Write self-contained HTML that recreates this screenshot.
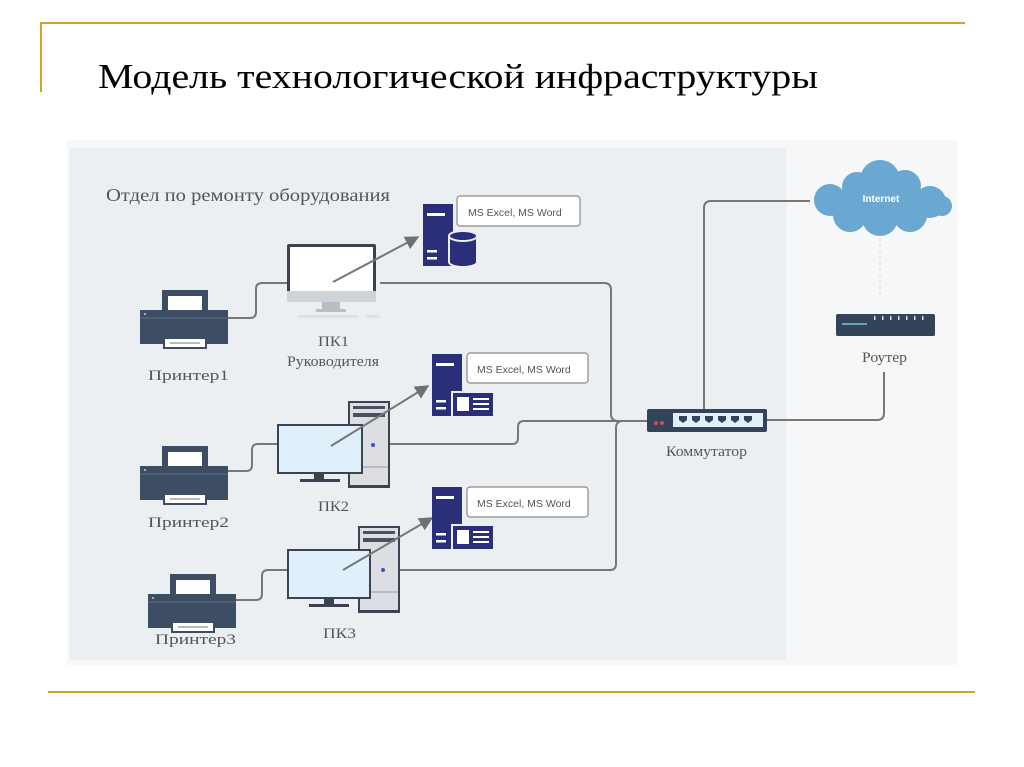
<!DOCTYPE html>
<html><head><meta charset="utf-8"><style>
html,body{margin:0;padding:0;background:#fff;width:1024px;height:767px;overflow:hidden}
svg{display:block}
.s{font-family:"Liberation Serif","DejaVu Serif",serif;fill:#555}
.l{font-family:"Liberation Sans","DejaVu Sans",sans-serif;font-size:10.5px;fill:#555}
</style></head><body>
<svg width="1024" height="767" viewBox="0 0 1024 767" xmlns="http://www.w3.org/2000/svg">
<defs>
<marker id="ar" viewBox="0 0 10 10" refX="9" refY="5" markerWidth="7" markerHeight="7" orient="auto"><path d="M0,0L10,5L0,10z" fill="#707070"/></marker>
<g id="printer">
 <rect x="22" y="0" width="46" height="22" fill="#3c4d64"/><rect x="28" y="6" width="34" height="16" fill="#fff"/>
 <rect x="0" y="20" width="88" height="34" fill="#3c4d64"/><line x1="0" y1="28" x2="88" y2="28" stroke="#5d6e85" stroke-width="1"/>
 <circle cx="5" cy="24" r="1" fill="#ccc"/>
 <rect x="24" y="48" width="42" height="10" fill="#fff" stroke="#3c4d64" stroke-width="2"/><rect x="30" y="52" width="30" height="2" fill="#bbb"/>
</g>
<g id="srv">
 <rect x="0" y="0" width="30" height="62" fill="#2b2f7a"/>
 <rect x="4" y="9" width="18" height="3" fill="#fff"/>
 <rect x="4" y="46" width="10" height="2.5" fill="#fff"/><rect x="4" y="53" width="10" height="2.5" fill="#fff"/>
</g>
<g id="tower">
 <rect x="0" y="0" width="42" height="87" fill="#3c4252"/><rect x="2" y="2" width="38" height="82" fill="#dcdee3"/>
 <rect x="5" y="5" width="32" height="3" fill="#4a5060"/><rect x="5" y="12" width="32" height="4" fill="#4a5060"/>
 <line x1="2" y1="66" x2="40" y2="66" stroke="#999"/><circle cx="25" cy="44" r="2" fill="#3355cc"/>
</g>
</defs>
<line x1="40" y1="23" x2="965" y2="23" stroke="#d4a12a" stroke-width="2"/>
<line x1="41" y1="22" x2="41" y2="92" stroke="#d4a12a" stroke-width="2"/>
<line x1="48" y1="692" x2="975" y2="692" stroke="#d4a12a" stroke-width="2"/>
<text x="98" y="88" font-family="'Liberation Serif',serif" font-size="35" fill="#000" textLength="720" lengthAdjust="spacingAndGlyphs">Модель технологической инфраструктуры</text>
<rect x="67" y="140" width="890" height="525" fill="#f6f7f9"/>
<rect x="70" y="148" width="716" height="512" fill="#eceff2"/>
<text x="106" y="201" class="s" font-size="18" textLength="284" lengthAdjust="spacingAndGlyphs">Отдел по ремонту оборудования</text>
<g fill="none" stroke="#777" stroke-width="2">
 <path d="M228,318H250Q256,318 256,312V289Q256,283 262,283H288"/>
 <path d="M380,283H604Q611,283 611,290V414Q611,421 618,421H648"/>
 <path d="M228,471H246Q252,471 252,465V450Q252,444 258,444H278"/>
 <path d="M390,444H512Q518,444 518,438V427Q518,421 524,421H648"/>
 <path d="M235,600H256Q262,600 262,594V576Q262,570 268,570H288"/>
 <path d="M398,570H610Q616,570 616,564V428Q616,421 623,421"/>
 <path d="M704,409V208Q704,201 711,201H810"/>
 <path d="M767,420H877Q884,420 884,413V372"/>
</g>
<line x1="880" y1="238" x2="880" y2="300" stroke="#e8e8e8" stroke-width="2" stroke-dasharray="3,3"/>
<use href="#printer" x="140" y="290"/>
<use href="#printer" x="140" y="446"/>
<use href="#printer" x="148" y="574"/>
<text x="148" y="380" class="s" font-size="15" textLength="81" lengthAdjust="spacingAndGlyphs">Принтер1</text>
<text x="148" y="527" class="s" font-size="15" textLength="81" lengthAdjust="spacingAndGlyphs">Принтер2</text>
<text x="155" y="644" class="s" font-size="15" textLength="81" lengthAdjust="spacingAndGlyphs">Принтер3</text>
<rect x="287" y="244" width="89" height="58" rx="2" fill="#3c4252"/>
<rect x="290" y="247" width="83" height="44" fill="#fff"/>
<rect x="287" y="291" width="89" height="11" fill="#cfd2d8"/>
<rect x="322" y="302" width="18" height="8" fill="#b8bcc3"/><rect x="316" y="309" width="30" height="3" fill="#b8bcc3"/>
<rect x="297" y="315" width="62" height="3" fill="#dfe1e5"/><rect x="365" y="315" width="15" height="3" fill="#dfe1e5"/>
<text x="318" y="346" class="s" font-size="15" textLength="31" lengthAdjust="spacingAndGlyphs">ПК1</text>
<text x="287" y="366" class="s" font-size="15" textLength="92" lengthAdjust="spacingAndGlyphs">Руководителя</text>
<use href="#tower" x="348" y="401"/>
<rect x="277" y="424" width="86" height="50" fill="#3c4252"/><rect x="279" y="426" width="82" height="46" fill="#dff0fa"/>
<rect x="314" y="474" width="10" height="6" fill="#3c4252"/><rect x="300" y="479" width="40" height="3" fill="#3c4252"/>
<text x="318" y="511" class="s" font-size="15" textLength="31" lengthAdjust="spacingAndGlyphs">ПК2</text>
<use href="#tower" x="358" y="526"/>
<rect x="287" y="549" width="84" height="50" fill="#3c4252"/><rect x="289" y="551" width="80" height="46" fill="#dff0fa"/>
<rect x="324" y="599" width="10" height="6" fill="#3c4252"/><rect x="309" y="604" width="40" height="3" fill="#3c4252"/>
<text x="323" y="638" class="s" font-size="15" textLength="33" lengthAdjust="spacingAndGlyphs">ПК3</text>
<g stroke="#777" stroke-width="2" marker-end="url(#ar)">
 <line x1="333" y1="282" x2="418" y2="237"/>
 <line x1="331" y1="446" x2="428" y2="386"/>
 <line x1="343" y1="570" x2="432" y2="518"/>
</g>
<use href="#srv" x="423" y="204"/>
<g fill="#2b2f7a" stroke="#eceff2" stroke-width="2"><path d="M449,236v26a14,5 0 0 0 28,0v-26z"/><ellipse cx="463" cy="236" rx="14" ry="5"/></g>
<rect x="457" y="196" width="123" height="30" rx="3" fill="#fff" stroke="#888" stroke-width="1.2"/>
<text x="468" y="216" class="l">MS Excel, MS Word</text>
<use href="#srv" x="432" y="354"/>
<rect x="452" y="392" width="42" height="25" fill="#2b2f7a" stroke="#eceff2" stroke-width="2"/><rect x="457" y="397" width="12" height="14" fill="#fff"/><rect x="473" y="398" width="16" height="2" fill="#fff"/><rect x="473" y="403" width="16" height="2" fill="#fff"/><rect x="473" y="408" width="16" height="2" fill="#fff"/>
<rect x="467" y="353" width="121" height="30" rx="3" fill="#fff" stroke="#888" stroke-width="1.2"/>
<text x="477" y="373" class="l">MS Excel, MS Word</text>
<use href="#srv" x="432" y="487"/>
<rect x="452" y="525" width="42" height="25" fill="#2b2f7a" stroke="#eceff2" stroke-width="2"/><rect x="457" y="530" width="12" height="14" fill="#fff"/><rect x="473" y="531" width="16" height="2" fill="#fff"/><rect x="473" y="536" width="16" height="2" fill="#fff"/><rect x="473" y="541" width="16" height="2" fill="#fff"/>
<rect x="467" y="487" width="121" height="30" rx="3" fill="#fff" stroke="#888" stroke-width="1.2"/>
<text x="477" y="507" class="l">MS Excel, MS Word</text>
<rect x="647" y="409" width="120" height="23" rx="2" fill="#33435a"/>
<circle cx="656" cy="423" r="2" fill="#d05040"/><circle cx="662" cy="423" r="2" fill="#d05040"/>
<rect x="673" y="413" width="90" height="14" fill="#dff0fa"/>
<g fill="#33435a"><path d="M679,416h8v4l-4,3l-4,-3z"/><path d="M692,416h8v4l-4,3l-4,-3z"/><path d="M705,416h8v4l-4,3l-4,-3z"/><path d="M718,416h8v4l-4,3l-4,-3z"/><path d="M731,416h8v4l-4,3l-4,-3z"/><path d="M744,416h8v4l-4,3l-4,-3z"/></g>
<text x="666" y="456" class="s" font-size="15" textLength="81" lengthAdjust="spacingAndGlyphs">Коммутатор</text>
<g fill="#6aa7d1">
 <circle cx="880" cy="180" r="20"/><circle cx="857" cy="187" r="15"/><circle cx="905" cy="186" r="16"/>
 <circle cx="830" cy="200" r="16"/><circle cx="930" cy="202" r="16"/><circle cx="942" cy="206" r="10"/>
 <circle cx="850" cy="215" r="17"/><circle cx="880" cy="218" r="18"/><circle cx="910" cy="215" r="17"/>
 <rect x="822" y="190" width="120" height="25" rx="10"/>
</g>
<text x="881" y="202" font-family="'Liberation Sans',sans-serif" font-size="10" font-weight="bold" fill="#fff" text-anchor="middle">Internet</text>
<rect x="836" y="314" width="99" height="22" rx="2" fill="#33435a"/>
<rect x="842" y="323" width="25" height="2" fill="#6aa7a0"/>
<g fill="#dde"><rect x="874" y="316" width="1.5" height="4"/><rect x="882" y="316" width="1.5" height="4"/><rect x="890" y="316" width="1.5" height="4"/><rect x="898" y="316" width="1.5" height="4"/><rect x="906" y="316" width="1.5" height="4"/><rect x="914" y="316" width="1.5" height="4"/><rect x="922" y="316" width="1.5" height="4"/></g>
<text x="862" y="362" class="s" font-size="15" textLength="45" lengthAdjust="spacingAndGlyphs">Роутер</text>
</svg>
</body></html>
